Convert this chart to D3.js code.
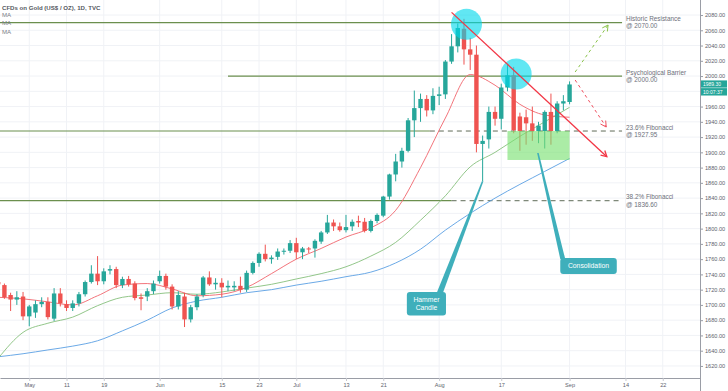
<!DOCTYPE html>
<html>
<head>
<meta charset="utf-8">
<script src="https://cdn.jsdelivr.net/npm/d3@7"></script>
<style>
html, body { margin: 0; padding: 0; background: #fff; }
svg { display: block; font-family: "Liberation Sans", Arial, sans-serif; }
</style>
</head>
<body>
<svg id="chart" width="728" height="391"></svg>
<script>
// daily candles, first bar = 2020-04-24, one value per trading day up to 2020-09-01
var firstDay = '2020-04-24';
var opens = [1730,1726,1713,1707,1711,1685,1690,1701,1704,1682,
             1715,1701,1696,1702,1714,1730,1741,1731,1745,1747,
             1726,1734,1728,1710,1711,1718,1731,1738,1724,1698,
             1711,1681,1697,1713,1736,1727,1729,1723,1723,1725,
             1720,1742,1755,1767,1760,1763,1770,1771,1781,1769,
             1774,1774,1783,1795,1808,1803,1798,1803,1810,1809,
             1797,1810,1817,1842,1871,1888,1902,1942,1958,1970,
             1955,1974,1976,2019,2039,2062,2035,2028,1911,1917,
             1953,1944,1985,2001,1947,1946,1938,1928,1928,1953,
             1928,1964,1966];
var highs = [1737,1728,1716,1718,1717,1700,1706,1710,1710,1722,
             1722,1706,1706,1717,1732,1752,1764,1748,1752,1750,
             1737,1738,1731,1715,1722,1732,1745,1741,1727,1718,
             1716,1700,1714,1738,1744,1735,1735,1732,1731,1737,
             1745,1757,1769,1779,1765,1774,1774,1785,1788,1776,
             1776,1786,1797,1818,1812,1808,1818,1812,1817,1814,
             1812,1820,1843,1872,1898,1906,1945,1981,1977,1975,
             1984,1986,2021,2055,2069,2075,2050,2040,1922,1960,
             1960,1990,2015,2012,1952,1956,1960,1940,1955,1977,
             1967,1975,1993];
var lows = [1715,1708,1692,1700,1680,1672,1683,1697,1681,1679,
            1698,1692,1692,1698,1711,1728,1726,1727,1740,1722,
            1722,1724,1706,1693,1705,1714,1728,1720,1694,1694,
            1671,1677,1693,1710,1725,1720,1710,1718,1718,1716,
            1717,1740,1750,1757,1754,1759,1766,1768,1760,1760,
            1768,1762,1780,1793,1797,1796,1795,1797,1802,1795,
            1795,1807,1815,1838,1862,1880,1900,1920,1940,1947,
            1950,1962,1970,2016,2031,2015,2008,1900,1862,1905,
            1935,1930,1980,1925,1902,1910,1915,1912,1905,1910,
            1925,1955,1963];
var closes = [1727,1710,1707,1710,1685,1698,1701,1704,1684,1715,
              1702,1696,1702,1714,1730,1741,1731,1744,1747,1726,
              1734,1727,1709,1708,1718,1728,1738,1724,1698,1713,
              1681,1697,1711,1736,1727,1729,1723,1725,1725,1720,
              1742,1755,1767,1760,1762,1770,1771,1781,1769,1774,
              1773,1784,1795,1808,1803,1798,1802,1809,1808,1797,
              1810,1818,1842,1871,1888,1902,1942,1958,1970,1955,
              1974,1976,2019,2039,2063,2035,2028,1911,1915,1953,
              1944,1985,2001,1929,1928,1938,1928,1935,1953,1928,
              1964,1967,1989];

// moving averages, every 4th bar starting at bar 0
var maStep = 4;
var maRed   = [1710,1708,1704,1700,1712,1726,1728,1721,1712,1714,1723,1741,
               1760,1774,1789,1801,1824,1880,1945,2002,1988,1963,1949,1946];
var maGreen = [1630,1664,1676,1684,1699,1710,1713,1716,1714,1717,1722,1727,
               1734,1741,1750,1764,1782,1811,1843,1881,1900,1921,1940,1959];
var maBlue  = [1632,1636,1641,1646,1653,1666,1680,1696,1705,1710,1716,1720,
               1726,1731,1737,1743,1755,1773,1798,1820,1840,1858,1875,1892];

var priceTicks = d3.range(1620, 2081, 20);
var tickDays = ['2020-05-01','2020-05-11','2020-05-19','2020-06-01','2020-06-15','2020-06-23','2020-07-01',
                '2020-07-13','2020-07-21','2020-08-03','2020-08-17','2020-09-01','2020-09-14','2020-09-22'];
var tickText = ['May','11','19','Jun','15','23','Jul','13','21','Aug','17','Sep','14','22'];

var levelValues = [2070, 2000, 1927.95, 1836.60];
var levelTitles = ['Historic Resistance', 'Psychological Barrier', '23.6% Fibonacci', '38.2% Fibonacci'];

var lastPrice = 1989.30;
var lastTime = '10:07:37';
var chartTitle = 'CFDs on Gold (US$ / OZ), 1D, TVC';

// ---------------------------------------------------------------
var W = 700, H = 378;
var UP = '#26a69a', DOWN = '#ef5350';
var LEVEL_COLOR = '#6b8f4e';

var svg = d3.select('#chart');

var fmtDay = d3.timeFormat('%Y-%m-%d');
var days = d3.timeDay.range(d3.timeParse('%Y-%m-%d')(firstDay), new Date(2020, 9, 1))
    .filter(function(d) { var w = d.getDay(); return w !== 0 && w !== 6; });
var dayIndex = {};
days.forEach(function(d, i) { dayIndex[fmtDay(d)] = i; });

var x = d3.scaleLinear().domain([0.29, 113]).range([0, W]);
var y = d3.scaleLinear().domain([1604.2, 2099.7]).range([H, 0]);

svg.append('defs').append('clipPath').attr('id', 'plot')
    .append('rect').attr('x', 0).attr('y', 0).attr('width', W).attr('height', H);

// grid
var grid = svg.append('g');
grid.selectAll('line.h').data(priceTicks).enter().append('line')
    .attr('class', 'h')
    .attr('x1', 0).attr('x2', W)
    .attr('y1', function(d) { return y(d); }).attr('y2', function(d) { return y(d); })
    .style('stroke', '#f0f2f6').style('stroke-width', 1);
grid.selectAll('line.v').data(tickDays).enter().append('line')
    .attr('class', 'v')
    .attr('x1', function(d) { return x(dayIndex[d]); }).attr('x2', function(d) { return x(dayIndex[d]); })
    .attr('y1', 0).attr('y2', H)
    .style('stroke', '#f0f2f6').style('stroke-width', 1);

var plot = svg.append('g').attr('clip-path', 'url(#plot)');

// level lines
var levelFrom = [0.29, 37, 0.29, 0.29];
var dashFrom = [null, null, 69.5, 73];
var levelTo = 100.45;
levelValues.forEach(function(v, k) {
    var solidEnd = dashFrom[k] === null ? levelTo : dashFrom[k];
    plot.append('line')
        .attr('x1', x(levelFrom[k])).attr('x2', x(solidEnd))
        .attr('y1', y(v)).attr('y2', y(v))
        .style('stroke', LEVEL_COLOR).style('stroke-width', 1.2);
    if (dashFrom[k] !== null) {
        plot.append('line')
            .attr('x1', x(dashFrom[k])).attr('x2', x(levelTo))
            .attr('y1', y(v)).attr('y2', y(v))
            .style('stroke', '#5f6b57').style('stroke-width', 1)
            .style('stroke-dasharray', '5,4');
    }
    svg.append('text')
        .attr('x', x(levelTo) + 4).attr('y', y(v) - 1.5)
        .style('font-size', '6.4px').style('fill', '#6d707a')
        .text(levelTitles[k]);
    svg.append('text')
        .attr('x', x(levelTo) + 4).attr('y', y(v) + 5.8)
        .style('font-size', '6.4px').style('fill', '#6d707a')
        .text('@ ' + d3.format('.2f')(v));
});

// moving averages
var maLine = d3.line()
    .x(function(d, i) { return x(i * maStep); })
    .y(function(d) { return y(d); })
    .curve(d3.curveMonotoneX);
[[maBlue, '#5a9fe3'], [maGreen, '#86c07c'], [maRed, '#f0646c']].forEach(function(m) {
    plot.append('path').attr('d', maLine(m[0]))
        .style('fill', 'none').style('stroke', m[1]).style('stroke-width', 0.9);
});

// candles
var bodyW = 4.4;
var candles = plot.selectAll('g.candle').data(closes).enter().append('g').attr('class', 'candle');
candles.append('line')
    .attr('x1', function(d, i) { return x(i); }).attr('x2', function(d, i) { return x(i); })
    .attr('y1', function(d, i) { return y(highs[i]); }).attr('y2', function(d, i) { return y(lows[i]); })
    .style('stroke', function(d, i) { return d >= opens[i] ? UP : DOWN; }).style('stroke-width', 1);
candles.append('rect')
    .attr('x', function(d, i) { return x(i) - bodyW / 2; })
    .attr('width', bodyW)
    .attr('y', function(d, i) { return y(Math.max(d, opens[i])); })
    .attr('height', function(d, i) { return Math.max(1, Math.abs(y(d) - y(opens[i]))); })
    .style('fill', function(d, i) { return d >= opens[i] ? UP : DOWN; });

// consolidation zone
plot.append('rect')
    .attr('x', x(82)).attr('width', x(92) - x(82))
    .attr('y', y(1927.95)).attr('height', y(1890) - y(1927.95))
    .style('fill', '#77e06f').style('opacity', 0.62);

// highlighted tops
[[75.4, 2068], [83.4, 2002.7]].forEach(function(c) {
    plot.append('circle').attr('cx', x(c[0])).attr('cy', y(c[1])).attr('r', 15.5)
        .style('fill', '#00d8ec').style('opacity', 0.62);
});

// arrows
var arrow = function(i1, p1, i2, p2, color, dash) {
    var x1 = x(i1), y1 = y(p1), x2 = x(i2), y2 = y(p2);
    plot.append('line').attr('x1', x1).attr('y1', y1).attr('x2', x2).attr('y2', y2)
        .style('stroke', color).style('stroke-width', dash ? 1 : 1.3)
        .style('stroke-dasharray', dash ? '3,3' : null);
    var a = Math.atan2(y2 - y1, x2 - x1), s = 6.5;
    var head = d3.path();
    head.moveTo(x2 - s * Math.cos(a - 0.5), y2 - s * Math.sin(a - 0.5));
    head.lineTo(x2, y2);
    head.lineTo(x2 - s * Math.cos(a + 0.5), y2 - s * Math.sin(a + 0.5));
    plot.append('path').attr('d', head.toString())
        .style('fill', 'none').style('stroke', color).style('stroke-width', dash ? 1 : 1.3);
};
arrow(73, 2083.5, 98, 1894.3, '#f23645', false);
arrow(92.9, 2005.3, 98.2, 2066.9, '#8bc34a', true);
arrow(92.9, 1994.8, 97.9, 1933.2, '#f0505f', true);

// callouts
var CALLOUT = '#3fafbb';
var callout = function(i1, i2, pTop, pBot, lines, baseA, baseB, tipI, tipP) {
    plot.append('path')
        .attr('d', d3.line()([[x(baseA), y(pTop) + 1], [x(baseB), y(pTop) + 1],
                              [x(tipI) + 0.8, y(tipP)], [x(tipI) - 0.8, y(tipP)]]) + 'Z')
        .style('fill', CALLOUT);
    plot.append('rect')
        .attr('x', x(i1)).attr('width', x(i2) - x(i1))
        .attr('y', y(pTop)).attr('height', y(pBot) - y(pTop))
        .attr('rx', 3).style('fill', CALLOUT);
    var cy = (y(pTop) + y(pBot)) / 2;
    lines.forEach(function(t, k) {
        svg.append('text')
            .attr('x', (x(i1) + x(i2)) / 2)
            .attr('y', cy + (k - (lines.length - 1) / 2) * 8.5 + 2.3)
            .attr('text-anchor', 'middle')
            .style('font-size', '6.8px').style('fill', '#fff')
            .text(t);
    });
};
callout(65.8, 72.1, 1717, 1686, ['Hammer', 'Candle'], 70.6, 71.6, 78, lows[78]);
callout(90.5, 99.6, 1761.5, 1740.5, ['Consolidation'], 90.5, 91.3, 86.9, 1899);

// axes (tick labels under the last-price tag are hidden, as on the chart)
var ly = y(lastPrice);
var yAxis = d3.axisRight(y).tickValues(priceTicks)
    .tickFormat(function(d) { return Math.abs(y(d) - (ly + 3.5)) < 10 ? '' : d3.format('.2f')(d); })
    .tickSize(3).tickSizeOuter(0).tickPadding(2);
var gy = svg.append('g').attr('transform', 'translate(' + W + ',0)').call(yAxis);
gy.select('.domain').remove();
gy.selectAll('line').style('stroke', '#9a9da6');
gy.selectAll('text').style('font-size', '5.6px').style('fill', '#60636d').style('font-family', 'Liberation Sans, Arial, sans-serif');
svg.append('line').attr('x1', W + 0.5).attr('x2', W + 0.5).attr('y1', 0).attr('y2', 391)
    .style('stroke', '#9a9da6').style('stroke-width', 1);

var xAxis = d3.axisBottom(x)
    .tickValues(tickDays.map(function(d) { return dayIndex[d]; }))
    .tickFormat(function(d, i) { return tickText[i]; })
    .tickSize(3).tickSizeOuter(0).tickPadding(2);
var gx = svg.append('g').attr('transform', 'translate(0,' + H + ')').call(xAxis);
gx.select('.domain').style('stroke', '#9a9da6');
gx.selectAll('line').style('stroke', '#c5c7cd');
gx.selectAll('text').style('font-size', '5.6px').style('fill', '#60636d').style('font-family', 'Liberation Sans, Arial, sans-serif');

// last price label
svg.append('rect').attr('x', W + 1).attr('y', ly - 3.8).attr('width', 26).attr('height', 7.2).style('fill', UP);
svg.append('rect').attr('x', W + 1).attr('y', ly + 3.9).attr('width', 26).attr('height', 7.4).style('fill', UP);
svg.append('text').attr('x', W + 3).attr('y', ly + 1.6).style('font-size', '5px').style('fill', '#fff').text(d3.format('.2f')(lastPrice));
svg.append('text').attr('x', W + 3).attr('y', ly + 9.6).style('font-size', '5px').style('fill', '#fff').text(lastTime);

// legend
svg.append('text').attr('x', 2).attr('y', 9.6)
    .style('font-size', '6.1px').style('font-weight', 'bold').style('fill', '#555860')
    .text(chartTitle);
[17.1, 25.4, 33.9].forEach(function(yy) {
    svg.append('text').attr('x', 2).attr('y', yy)
        .style('font-size', '6.1px').style('fill', '#7c7f88').text('MA');
});
</script>
</body>
</html>
